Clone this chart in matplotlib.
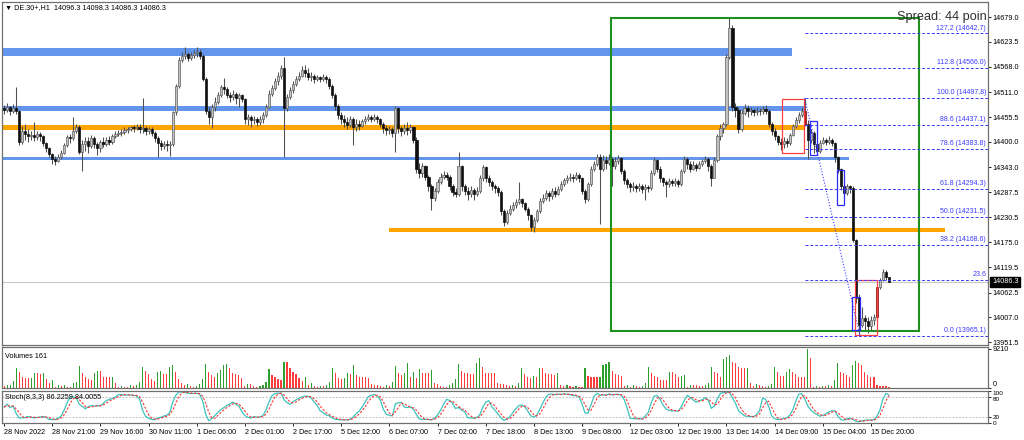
import numpy as np
import pandas as pd
import matplotlib
matplotlib.use("Agg")
import matplotlib.pyplot as plt
from matplotlib.patches import Rectangle
import matplotlib.transforms as mtrans

plt.rcParams['font.family'] = ['Liberation Sans', 'DejaVu Sans']

# ---------------- data ----------------
first_open = 14476
closes = [
    14472, 14478, 14468, 14476, 14470, 14400, 14425, 14418, 14412, 14416,
    14410, 14418, 14412, 14398, 14385, 14372, 14362, 14358, 14366, 14376,
    14392, 14410, 14408, 14425, 14432, 14378, 14395, 14402, 14390, 14408,
    14396, 14385, 14400, 14396, 14404, 14400, 14412, 14418, 14420, 14422,
    14426, 14428, 14432, 14430, 14434, 14428, 14430, 14424, 14428, 14420,
    14408, 14398, 14390, 14396, 14392, 14396, 14466, 14525, 14583, 14592,
    14596, 14588, 14594, 14598, 14600, 14592, 14540, 14470, 14455, 14478,
    14490, 14505, 14522, 14518, 14505, 14500, 14508, 14498, 14504, 14495,
    14450, 14455, 14448, 14452, 14445, 14450, 14460, 14478, 14508, 14520,
    14535, 14548, 14565, 14475, 14500, 14515, 14530, 14540, 14548, 14560,
    14555, 14545, 14548, 14540, 14544, 14540, 14546, 14540, 14525, 14505,
    14480, 14460, 14452, 14445, 14438, 14450, 14432, 14440, 14436, 14446,
    14450, 14455, 14452, 14456, 14450, 14440, 14430, 14426, 14428, 14420,
    14476, 14430, 14424, 14430, 14426, 14432, 14405, 14340, 14330, 14345,
    14322, 14300, 14275, 14290, 14310, 14322, 14326, 14322, 14300, 14288,
    14282, 14345, 14300, 14290, 14284, 14292, 14282, 14290, 14318, 14343,
    14320, 14310, 14300, 14296, 14288, 14245, 14220, 14240, 14250, 14258,
    14266, 14272, 14262, 14250, 14235, 14210, 14225, 14245, 14268, 14275,
    14285, 14278, 14290, 14284, 14295, 14305, 14315, 14318, 14322, 14320,
    14325, 14318, 14290, 14272, 14305, 14340, 14350, 14365, 14340, 14360,
    14352, 14362, 14345, 14358, 14364, 14335, 14315, 14305, 14298, 14302,
    14296, 14300, 14294, 14298, 14296, 14330, 14360, 14340, 14318, 14310,
    14305, 14312, 14308, 14312, 14306, 14335, 14362, 14350, 14340, 14348,
    14342, 14350, 14356, 14362, 14345, 14320, 14360, 14412, 14430, 14440,
    14590, 14655, 14478, 14472, 14428, 14465, 14476, 14468, 14472, 14466,
    14470, 14468, 14474, 14470, 14440, 14425, 14412, 14400, 14395, 14402,
    14398, 14415, 14435, 14448, 14460, 14470, 14440, 14405, 14420, 14395,
    14380, 14398, 14404, 14400, 14405, 14398, 14365, 14340, 14300, 14285,
    14300, 14296, 14180, 14050, 13990, 14005, 13998, 13988, 14000, 14008,
    14075, 14090, 14108, 14096.3, 14086.3,
]
highs = [
    14482, 14486, 14480, 14484, 14522, 14472, 14435, 14440, 14428, 14425,
    14445, 14425, 14422, 14415, 14400, 14388, 14375, 14368, 14372, 14382,
    14398, 14415, 14418, 14455, 14440, 14438, 14405, 14410, 14410, 14415,
    14412, 14400, 14405, 14410, 14410, 14412, 14418, 14424, 14426, 14428,
    14432, 14434, 14436, 14438, 14440, 14440, 14498, 14436, 14434, 14432,
    14424, 14412, 14404, 14402, 14404, 14402, 14470, 14530, 14590, 14600,
    14612, 14600, 14602, 14606, 14612, 14608, 14596, 14545, 14478, 14484,
    14500, 14512, 14528, 14542, 14522, 14512, 14515, 14512, 14510, 14508,
    14498, 14462, 14460, 14458, 14456, 14458, 14466, 14484, 14515, 14528,
    14542, 14556, 14572, 14590, 14506, 14522, 14536, 14548, 14556, 14570,
    14572, 14565, 14556, 14552, 14550, 14548, 14552, 14550, 14545, 14530,
    14510, 14485, 14466, 14460, 14455, 14458, 14455, 14452, 14448, 14452,
    14458, 14462, 14460, 14462, 14460, 14454, 14445, 14438, 14436, 14434,
    14480, 14478, 14436, 14440, 14444, 14440, 14436, 14410, 14352, 14352,
    14348, 14326, 14305, 14296, 14316, 14330, 14334, 14332, 14326, 14305,
    14296, 14377, 14348, 14306, 14298, 14300, 14296, 14298, 14325, 14348,
    14346, 14325, 14315, 14306, 14300, 14292, 14250, 14248, 14258, 14265,
    14272, 14310, 14275, 14266, 14255, 14238, 14232, 14250, 14274, 14282,
    14292, 14290, 14296, 14298, 14302, 14312, 14320, 14325, 14330, 14328,
    14332, 14330, 14322, 14295, 14310, 14346, 14358, 14372, 14372, 14370,
    14368, 14372, 14366, 14366, 14370, 14366, 14338, 14318, 14310, 14310,
    14306, 14308, 14305, 14306, 14304, 14336, 14366, 14362, 14345, 14322,
    14315, 14318, 14316, 14318, 14316, 14340, 14368, 14365, 14356, 14356,
    14352, 14358, 14362, 14368, 14366, 14350, 14365, 14418, 14440, 14445,
    14596, 14677, 14661, 14486, 14478, 14472, 14484, 14482, 14478, 14476,
    14478, 14476, 14480, 14482, 14474, 14445, 14430, 14416, 14408, 14410,
    14408, 14420, 14440, 14455, 14466, 14478, 14497.8, 14448, 14428, 14425,
    14400, 14404, 14410, 14408, 14412, 14408, 14400, 14368, 14342, 14305,
    14306, 14304, 14300, 14182, 14060, 14030, 14012, 14008, 14010, 14015,
    14080, 14095, 14115, 14112, 14098.3,
]
lows = [
    14462, 14466, 14460, 14464, 14462, 14392, 14395, 14405, 14400, 14405,
    14402, 14404, 14402, 14390, 14378, 14365, 14350, 14348, 14355, 14362,
    14372, 14388, 14398, 14405, 14420, 14372, 14334, 14380, 14375, 14385,
    14385, 14370, 14378, 14388, 14390, 14392, 14396, 14408, 14412, 14414,
    14418, 14420, 14424, 14422, 14426, 14420, 14420, 14416, 14418, 14412,
    14400, 14366, 14382, 14384, 14380, 14368, 14390, 14460, 14520, 14578,
    14585, 14580, 14584, 14588, 14590, 14585, 14535, 14462, 14440, 14431,
    14470, 14485, 14500, 14508, 14498, 14490, 14494, 14485, 14478, 14488,
    14440, 14438, 14434, 14440, 14436, 14438, 14442, 14455, 14475, 14502,
    14515, 14528, 14540, 14366, 14470, 14495, 14510, 14525, 14536, 14545,
    14546, 14538, 14535, 14532, 14535, 14534, 14536, 14532, 14518, 14498,
    14472, 14450, 14440, 14434, 14428, 14432, 14393, 14425, 14426, 14432,
    14440, 14446, 14444, 14446, 14442, 14432, 14420, 14416, 14418, 14410,
    14377, 14420, 14412, 14418, 14415, 14420, 14398, 14330, 14318, 14322,
    14314, 14290, 14247, 14268, 14285, 14305, 14316, 14314, 14292, 14278,
    14276, 14278, 14290, 14280, 14270, 14276, 14270, 14278, 14286, 14312,
    14310, 14300, 14292, 14285, 14278, 14236, 14212, 14215, 14236, 14245,
    14252, 14260, 14255, 14244, 14226, 14200, 14198, 14220, 14240, 14262,
    14270, 14268, 14272, 14276, 14280, 14290, 14302, 14308, 14312, 14310,
    14314, 14310, 14282, 14264, 14268, 14300, 14335, 14345, 14215, 14335,
    14340, 14348, 14300, 14340, 14350, 14328, 14305, 14296, 14288, 14290,
    14288, 14290, 14285, 14269, 14288, 14292, 14325, 14332, 14310, 14302,
    14276, 14298, 14300, 14302, 14298, 14302, 14330, 14340, 14332, 14336,
    14334, 14338, 14345, 14352, 14335, 14300, 14318, 14355, 14405, 14420,
    14436, 14585, 14470, 14455, 14420, 14424, 14460, 14455, 14460, 14458,
    14460, 14460, 14462, 14462, 14432, 14415, 14404, 14392, 14382, 14385,
    14388, 14392, 14412, 14430, 14442, 14455, 14435, 14362, 14398, 14375,
    14372, 14376, 14395, 14392, 14396, 14390, 14355, 14330, 14292, 14272,
    14280, 14286, 14175, 14040, 13965.1, 13985, 13978, 13972, 13978, 13990,
    14002, 14070, 14088, 14090, 14086.3,
]
volumes = [
    470, 600, 800, 1700, 4650, 3850, 2500, 2300, 2250, 2300,
    3600, 3450, 3300, 3600, 2050, 1100, 1900, 320, 700, 470,
    700, 320, 200, 1100, 1500, 5200, 3600, 2700, 2050, 1900,
    3600, 4100, 4050, 2700, 2650, 2500, 2550, 1250, 320, 470,
    330, 320, 700, 470, 600, 1500, 4900, 4100, 3300, 2050,
    1750, 3850, 4100, 3300, 3280, 5050, 5450, 3850, 2050, 1100,
    700, 940, 470, 320, 470, 940, 2050, 5650, 3800, 3050,
    2700, 3450, 4250, 5400, 5600, 4650, 3450, 3250, 3050, 2300,
    470, 870, 870, 470, 320, 470, 700, 1500, 4400, 3050,
    2500, 2050, 1900, 6200, 6050, 4650, 3850, 3250, 2450, 1750,
    2700, 700, 1100, 470, 320, 470, 470, 700, 1500, 4650,
    3600, 2300, 2050, 2300, 3450, 3300, 5450, 3050, 2700, 2500,
    2500, 2280, 940, 700, 700, 470, 320, 700, 470, 1500,
    5200, 3620, 3070, 3460, 5980, 2680, 3860, 2280, 4410, 3620,
    3620, 3620, 4250, 1100, 870, 470, 315, 315, 700, 1100,
    2050, 5670, 4090, 3620, 3620, 3300, 3300, 5820, 7000, 5040,
    3620, 3620, 3460, 3460, 1100, 940, 860, 630, 470, 700,
    470, 1100, 4640, 3300, 2680, 2440, 2830, 2680, 4640, 4640,
    3620, 3300, 3230, 3070, 3460, 700, 470, 700, 470, 315,
    470, 315, 315, 4800, 2830, 2680, 2680, 2680, 2700, 5350,
    5590, 6060, 4090, 3300, 3070, 2830, 470, 700, 315, 700,
    470, 315, 470, 1250, 4880, 3460, 2830, 2520, 1890, 1890,
    1890, 3860, 3860, 3300, 2680, 2830, 3070, 315, 700, 700,
    700, 470, 470, 700, 1100, 5040, 3860, 3460, 2680, 6770,
    7400, 7790, 6220, 5820, 5040, 4800, 4640, 4800, 1100, 470,
    870, 700, 470, 315, 470, 940, 5040, 3860, 2830, 2830,
    3860, 4410, 3860, 3300, 2680, 2680, 2680, 9210, 7160, 315,
    470, 315, 470, 470, 700, 470, 1890, 5820, 3860, 3460,
    3070, 2680, 5430, 6370, 5820, 5430, 3860, 3070, 2680, 2520,
    700, 470, 470, 470, 161,
]
marked_bars = [266, 290]

time_labels = ["28 Nov 2022", "28 Nov 21:00", "29 Nov 16:00", "30 Nov 11:00",
               "1 Dec 06:00", "2 Dec 01:00", "2 Dec 17:00", "5 Dec 12:00",
               "6 Dec 07:00", "7 Dec 02:00", "7 Dec 18:00", "8 Dec 13:00",
               "9 Dec 08:00", "12 Dec 03:00", "12 Dec 19:00", "13 Dec 14:00",
               "14 Dec 09:00", "15 Dec 04:00", "15 Dec 20:00"]
bars_per_label = 16

price_ticks = [14679.0, 14623.5, 14568.0, 14511.0, 14455.5, 14400.0, 14343.0,
               14287.5, 14230.5, 14175.0, 14119.5, 14062.5, 14007.0, 13951.5]

fib_levels = ["0.0", "23.6", "38.2", "50.0", "61.8", "78.6", "88.6", "100.0", "112.8", "127.2"]
fib_prices = [13965.1, 14090.8, 14168.6, 14231.5, 14294.3, 14383.8, 14437.1, 14497.8, 14566.0, 14642.7]
fib_anchor_bars = [266, 284.4]

# horizontal zones: (end bar, low price, high price)
blue_zones = [(261.8, 14593, 14610), (266, 14470, 14480), (280.7, 14360, 14366)]
orange_zones = [(266, 14426, 14437)]
orange_zone2 = (127.9, 312.6, 14197, 14208)
green_box = (201.7, 304.0, 13976, 14678)
red_boxes = [(258.6, 265.8, 14374, 14496), (282.7, 290.0, 13967, 14090)]
blue_boxes = [(267.8, 270.1, 14370, 14446), (276.7, 279.0, 14258, 14337), (281.7, 284.3, 13979, 14052)]

last_price = 14086.3
header = "\u25BC DE.30+,H1  14096.3 14098.3 14086.3 14086.3"
spread_text = "Spread: 44 poin"
stoch_text = "Stoch(8,3,3) 86.2259 84.0055"
volume_text = "Volumes 161"

# ---------------- derived ----------------
c = np.array(closes, float)
o = np.concatenate([[first_open], c[:-1]])
h = np.maximum(np.array(highs, float), np.maximum(o, c))
l = np.minimum(np.array(lows, float), np.minimum(o, c))
v = np.array(volumes, float)
n = len(c)
idx = np.arange(n)

hs, ls, cs = pd.Series(h), pd.Series(l), pd.Series(c)
ll = ls.rolling(8, min_periods=1).min()
hh = hs.rolling(8, min_periods=1).max()
num = (cs - ll).rolling(3, min_periods=1).sum()
den = (hh - ll).rolling(3, min_periods=1).sum()
k_main = 100 * num / den.replace(0, np.nan)
k_sig = k_main.rolling(3, min_periods=1).mean()

# ---------------- figure ----------------
W, H = 1024, 440
fig = plt.figure(figsize=(W / 100, H / 100), dpi=100)
fig.patch.set_facecolor('white')

def fx(px):
    return px / W

def fy(py):
    return 1 - py / H

ax = fig.add_axes([fx(2), fy(345), fx(986), 343 / H])
axv = fig.add_axes([fx(2), fy(388), fx(986), 41 / H])
axs = fig.add_axes([fx(2), fy(423), fx(986), 32 / H])

XL = (-0.7, 326.9)
for a in (ax, axv, axs):
    a.set_xlim(*XL)
    a.set_facecolor('white')
    for s in a.spines.values():
        s.set_color('#707070')
        s.set_linewidth(0.9)
    a.yaxis.tick_right()
    a.tick_params(axis='y', direction='out', length=2, width=0.6, pad=1.5,
                  labelsize=5.2, colors='black')
    a.tick_params(axis='x', bottom=False, labelbottom=False)

ymin, ymax = 13945, 14713
ax.set_ylim(ymin, ymax)
ax.set_yticks(price_ticks)
ax.set_yticklabels([f"{p:.1f}" for p in price_ticks])

# zones
for (x1, y0, y1) in blue_zones:
    ax.add_patch(Rectangle((XL[0], y0), x1 - XL[0], y1 - y0, fc='#6495ED', ec='none', zorder=1))
for (x1, y0, y1) in orange_zones:
    ax.add_patch(Rectangle((XL[0], y0), x1 - XL[0], y1 - y0, fc='#FFA500', ec='none', zorder=1))
x0, x1, y0, y1 = orange_zone2
ax.add_patch(Rectangle((x0, y0), x1 - x0, y1 - y0, fc='#FFA500', ec='none', zorder=1))

# current price line
ax.axhline(last_price, color='#c8c8c8', lw=0.8, zorder=0.5)

# candles
bull = c >= o
wick_col = '#505050'
ax.vlines(idx, l, h, color=wick_col, lw=0.75, zorder=3)
body_bot = np.minimum(o, c)
body_h = np.maximum(np.abs(c - o), 1.5)
face = np.where(bull, '#c2c2c2', '#101010').astype(object)
edge = np.where(bull, '#606060', '#101010').astype(object)
for m in marked_bars:
    face[m] = '#b01818'
    edge[m] = '#7a0c0c'
ax.bar(idx, body_h, bottom=body_bot, width=0.72, color=list(face),
       edgecolor=list(edge), linewidth=0.5, zorder=4)

# green box
gx0, gx1, gy0, gy1 = green_box
ax.add_patch(Rectangle((gx0, gy0), gx1 - gx0, gy1 - gy0, fill=False, ec='#1f8f1f', lw=1.5, zorder=5))
for (bx0, bx1, by0, by1) in red_boxes:
    ax.add_patch(Rectangle((bx0, by0), bx1 - bx0, by1 - by0, fill=False, ec='#ff4040', lw=0.9, zorder=5))
for (bx0, bx1, by0, by1) in blue_boxes:
    ax.add_patch(Rectangle((bx0, by0), bx1 - bx0, by1 - by0, fill=False, ec='#2a2aff', lw=0.9, zorder=5))

# fibonacci
fib_col = '#3a3aff'
blend = mtrans.blended_transform_factory(ax.transAxes, ax.transData)
for lvl, pr in zip(fib_levels, fib_prices):
    ax.plot([fib_anchor_bars[0], XL[1]], [pr, pr], color=fib_col, lw=0.7,
            ls=(0, (3, 2)), zorder=5)
    txt = lvl if lvl == "23.6" else f"{lvl} ({pr:.1f})"
    ax.text(0.998, pr + 4, txt, transform=blend, ha='right', va='bottom',
            fontsize=5, color=fib_col, zorder=6)
ax.plot(fib_anchor_bars, [fib_prices[7], fib_prices[0]], color=fib_col, lw=0.8,
        ls=(0, (1, 1.6)), zorder=5)

# spread text (ends at the price axis, as in the terminal)
ax.text(0.999, 14679, spread_text, transform=blend, fontsize=9.2, color='#303030',
        va='center', ha='right', clip_on=True, zorder=7)

# price box
ax.text(1.004, last_price, "14086.3", transform=blend, ha='left', va='center',
        fontsize=5.2, color='white', zorder=8, clip_on=False,
        bbox=dict(boxstyle='square,pad=0.25', fc='black', ec='black'))

fig.text(fx(5), fy(8), header, fontsize=5.2, va='center', ha='left', color='black')

# volumes
vcol = ['#2e9e2e' if (i > 0 and v[i] > v[i - 1]) else '#ff3b3b' for i in range(n)]
axv.bar(idx, v, width=0.38, color=vcol, linewidth=0)
axv.set_ylim(0, 9682)
axv.set_yticks([0, 9210])
axv.set_yticklabels(['0', '9210'])
for t in axv.get_yticklabels():
    if t.get_text() == '0':
        t.set_verticalalignment('bottom')
axv.text(0.003, 0.86, volume_text, transform=axv.transAxes, fontsize=5.2, va='top', ha='left')

# stochastic
axs.set_ylim(0, 100)
axs.axhline(80, color='#b0b0b0', lw=0.6, ls=(0, (2, 2)))
axs.axhline(20, color='#b0b0b0', lw=0.6, ls=(0, (2, 2)))
axs.plot(idx, k_main, color='#3cc4bd', lw=0.9)
axs.plot(idx, k_sig, color='#ff3030', lw=0.8, ls=(0, (2, 1.5)))
axs.set_yticks([0, 20, 80, 100])
axs.set_yticklabels(['0', '20', '80', '100'], fontsize=4.6)
for t in axs.get_yticklabels():
    if t.get_text() == '100':
        t.set_verticalalignment('top')
    elif t.get_text() == '80':
        t.set_verticalalignment('top')
        t.set_y(76)
axs.text(0.003, 0.80, stoch_text, transform=axs.transAxes, fontsize=5.2, va='center', ha='left')

tick_pos = [i * bars_per_label for i in range(len(time_labels))]
axs.set_xticks(tick_pos)
axs.set_xticklabels(time_labels, ha='left', fontsize=5.2)
axs.tick_params(axis='x', bottom=True, labelbottom=True, length=2, width=0.6, pad=2)

fig.savefig('out.png', dpi=100, facecolor='white')
